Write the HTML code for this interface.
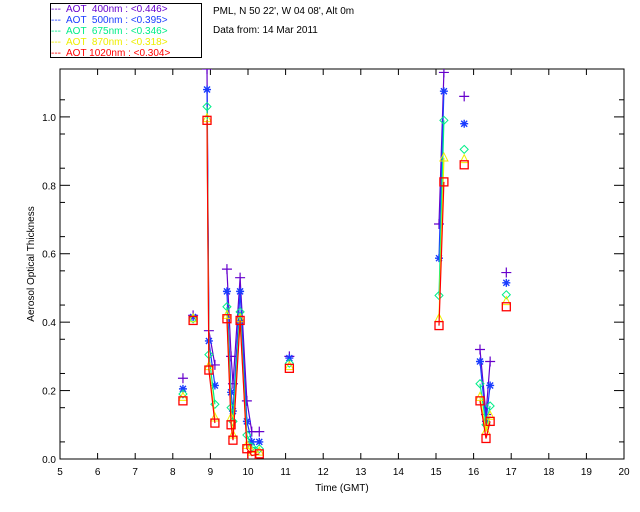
<!DOCTYPE html>
<html><head><meta charset="utf-8"><style>
body{margin:0;background:#fff;}
svg{display:block;font-family:"Liberation Sans",sans-serif;}
</style></head><body>
<svg id="chart" width="640" height="512"></svg>
<script>
const times=[8.27,8.54,8.91,8.96,9.12,9.44,9.55,9.6,9.79,9.97,10.1,10.3,11.1,15.08,15.21,15.75,16.17,16.33,16.44,16.87];
const aot400=[0.236,0.42,1.14,0.375,0.275,0.555,0.30,0.22,0.53,0.17,0.08,0.08,0.30,0.687,1.13,1.06,0.32,0.13,0.285,0.545];
const aot500=[0.205,0.415,1.08,0.345,0.215,0.49,0.195,0.14,0.49,0.11,0.05,0.05,0.295,0.587,1.075,0.98,0.285,0.11,0.215,0.515];
const aot675=[0.19,0.41,1.03,0.305,0.16,0.445,0.15,0.11,0.43,0.07,0.035,0.03,0.28,0.478,0.99,0.905,0.22,0.10,0.155,0.48];
const aot870=[0.18,0.41,0.995,0.27,0.12,0.42,0.12,0.07,0.41,0.04,0.02,0.02,0.27,0.41,0.88,0.875,0.18,0.08,0.125,0.46];
const aot1020=[0.17,0.405,0.99,0.26,0.105,0.41,0.10,0.055,0.405,0.03,0.01,0.015,0.265,0.39,0.81,0.86,0.17,0.06,0.11,0.445];
const xTicks=[5,6,7,8,9,10,11,12,13,14,15,16,17,18,19,20];
const yTicks=[0,0.2,0.4,0.6,0.8,1.0];
const L=60,R=624,T=69,B=459,XMIN=5,XMAX=20,YMAX=1.14;
const X=t=>L+(t-XMIN)/(XMAX-XMIN)*(R-L);
const Y=v=>B-v/YMAX*(B-T);
const NS="http://www.w3.org/2000/svg";
const svg=document.getElementById('chart');
function mk(tag,a,p){const e=document.createElementNS(NS,tag);for(const k in a)e.setAttribute(k,a[k]);(p||svg).appendChild(e);return e;}
const defs=mk('defs',{});const cp=mk('clipPath',{id:'pc'},defs);mk('rect',{x:L,y:T,width:R-L,height:B-T},cp);
const frame=mk('rect',{x:L,y:T,width:R-L,height:B-T,fill:'none',stroke:'#000','stroke-width':1});

xTicks.forEach(t=>{const x=X(t);
 mk('line',{x1:x,y1:B,x2:x,y2:B-6,stroke:'#000'});mk('line',{x1:x,y1:T,x2:x,y2:T+6,stroke:'#000'});
 const tx=mk('text',{x:x,y:B+16,'font-size':10,'text-anchor':'middle'});tx.textContent=t;
 });
yTicks.forEach(v=>{const y=Y(v);
 mk('line',{x1:L,y1:y,x2:L+10,y2:y,stroke:'#000'});mk('line',{x1:R,y1:y,x2:R-10,y2:y,stroke:'#000'});
 const tx=mk('text',{x:L-4,y:y+4,'font-size':10,'text-anchor':'end'});tx.textContent=v.toFixed(1);
 });
for(let v=0.05;v<YMAX;v+=0.1){const y=Y(v);mk('line',{x1:L,y1:y,x2:L+5,y2:y,stroke:'#000'});mk('line',{x1:R,y1:y,x2:R-5,y2:y,stroke:'#000'});}
const xt=mk('text',{x:342,y:491,'font-size':10,'text-anchor':'middle'});xt.textContent='Time (GMT)';

const yt=mk('text',{x:34,y:264,'font-size':10,'text-anchor':'middle',transform:'rotate(-90 34 264)'});yt.textContent='Aerosol Optical Thickness';

const series=[['400',aot400,'#6600cc','plus'],['500',aot500,'#1a3cff','star'],['675',aot675,'#00ee88','diamond'],['870',aot870,'#eeee00','triangle'],['1020',aot1020,'#ff0000','square']];
series.forEach(([nm,vals,col,mkr])=>{
 const g=mk('g',{'clip-path':'url(#pc)'});
 
 let d='';
 for(let i=0;i<times.length;i++){
  const brk=i===0||times[i]-times[i-1]>0.22;
  d+=(brk?'M':'L')+X(times[i]).toFixed(1)+' '+Y(vals[i]).toFixed(1)+' ';
 }
 mk('path',{d:d,fill:'none',stroke:col,'stroke-width':1.2},g);
 for(let i=0;i<times.length;i++){
  const x=X(times[i]),y=Y(vals[i]);let m;
  if(mkr==='plus')m=mk('path',{d:`M${x-5} ${y}H${x+5}M${x} ${y-5}V${y+5}`,stroke:col,'stroke-width':1.2,fill:'none'},g);
  else if(mkr==='star')m=mk('path',{d:`M${x-4} ${y}H${x+4}M${x} ${y-4}V${y+4}M${x-3} ${y-3}L${x+3} ${y+3}M${x-3} ${y+3}L${x+3} ${y-3}`,stroke:col,'stroke-width':1.4,fill:'none'},g);
  else if(mkr==='diamond')m=mk('path',{d:`M${x} ${y-4}L${x+4} ${y}L${x} ${y+4}L${x-4} ${y}Z`,stroke:col,fill:'none'},g);
  else if(mkr==='triangle')m=mk('path',{d:`M${x} ${y-5}L${x+4} ${y+3}L${x-4} ${y+3}Z`,stroke:col,fill:'none'},g);
  else m=mk('rect',{x:x-4,y:y-4,width:8,height:8,stroke:col,fill:'none','stroke-width':1.3},g);
  
  
 }
});
</script>
<div style="position:absolute;left:50px;top:3px;width:152px;height:55px;border:1px solid #000;font-family:'Liberation Sans',sans-serif;font-size:10px;line-height:11px;padding-top:0px;box-sizing:border-box;white-space:pre;"><div style="color:#6600cc">---  AOT  400nm : &lt;0.446&gt;</div><div style="color:#1a3cff">---  AOT  500nm : &lt;0.395&gt;</div><div style="color:#00ee88">---  AOT  675nm : &lt;0.346&gt;</div><div style="color:#eeee00">---  AOT  870nm : &lt;0.318&gt;</div><div style="color:#ff0000">---  AOT 1020nm : &lt;0.304&gt;</div></div>
<div style="position:absolute;left:213px;top:6px;font-family:'Liberation Sans',sans-serif;font-size:10px;line-height:11px;">PML, N 50 22', W 04 08', Alt 0m</div>
<div style="position:absolute;left:213px;top:25px;font-family:'Liberation Sans',sans-serif;font-size:10px;line-height:11px;">Data from: 14 Mar 2011</div>
</body></html>
